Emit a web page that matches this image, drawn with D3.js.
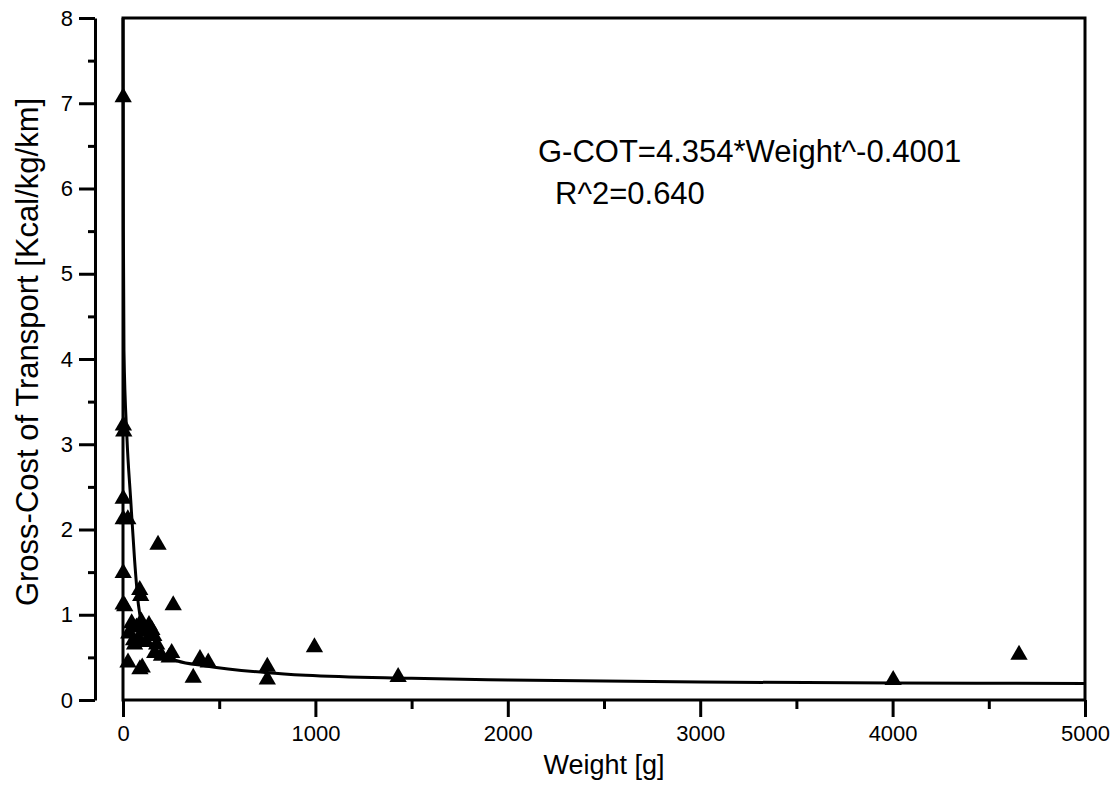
<!DOCTYPE html>
<html>
<head>
<meta charset="utf-8">
<script src="https://cdn.jsdelivr.net/npm/d3@7"></script>
<style>
  body { margin: 0; background: #fff; }
  svg { font-family: "Liberation Sans", Arial, sans-serif; }
  .axis path, .axis line { stroke: #000; stroke-width: 3px; }
  .axis text { font-size: 22px; fill: #000; }
</style>
</head>
<body>
<div id="chart"></div>
<script>
"use strict";

// observed points (weight in g, gross cost of transport)
var weights = [1, 2, 4, 1, 1, 25, 1, 1, 9, 182, 87, 92, 261,
  30, 45, 55, 60, 70, 80, 95, 105, 120, 135, 150, 160, 175,
  26, 88, 100, 165, 200, 253, 240, 365, 400, 443,
  750, 750, 995, 1430, 4003, 4657];
var costs = [7.07, 3.22, 3.15, 2.36, 2.12, 2.12, 1.49, 1.12, 1.1, 1.82, 1.29, 1.22, 1.11,
  0.78, 0.9, 0.7, 0.65, 0.85, 0.72, 0.92, 0.8, 0.68, 0.88, 0.82, 0.75, 0.65,
  0.44, 0.36, 0.38, 0.55, 0.52, 0.55, 0.5, 0.26, 0.48, 0.44,
  0.39, 0.24, 0.62, 0.27, 0.235, 0.53];

// fitted curve as drawn in the figure
var fitWeights = [0.5, 2, 5, 20, 40, 60, 80, 100, 130, 180, 280, 430, 750, 950, 1500, 2000, 3000, 4000, 5000];
var fitCosts = [8.0, 5.5, 4.1, 3.1, 2.35, 1.65, 1.12, 0.86, 0.68, 0.56, 0.46, 0.4, 0.32, 0.29, 0.255, 0.235, 0.21, 0.2, 0.195];

var xTicks = [0, 1000, 2000, 3000, 4000, 5000];
var xMinor = [500, 1500, 2500, 3500, 4500];
var yTicks = [0, 1, 2, 3, 4, 5, 6, 7, 8];
var yMinor = [0.5, 1.5, 2.5, 3.5, 4.5, 5.5, 6.5, 7.5];

var equation = "G-COT=4.354*Weight^-0.4001";
var rSquared = "R^2=0.640";

var width = 1114,
  height = 785;

var x = d3.scaleLinear().domain([0, 5000]).range([123, 1085]);
var y = d3.scaleLinear().domain([0, 8]).range([700, 18]);

var svg = d3
  .select("#chart")
  .append("svg")
  .attr("width", width)
  .attr("height", height);

svg.append("rect").attr("width", width).attr("height", height).attr("fill", "#fff");

// plot frame
svg
  .append("rect")
  .attr("x", x(0))
  .attr("y", y(8))
  .attr("width", x(5000) - x(0))
  .attr("height", y(0) - y(8))
  .attr("fill", "none")
  .attr("stroke", "#000")
  .attr("stroke-width", 3);

// x axis along the bottom of the frame
var gx = svg
  .append("g")
  .attr("class", "axis")
  .attr("transform", "translate(0," + y(0) + ")")
  .call(d3.axisBottom(x).tickValues(xTicks).tickSize(17).tickPadding(8).tickFormat(d3.format("d")));
gx.select(".domain").remove();
svg
  .append("g")
  .attr("class", "axis")
  .attr("transform", "translate(0," + y(0) + ")")
  .call(d3.axisBottom(x).tickValues(xMinor).tickSize(9).tickFormat(""))
  .select(".domain")
  .remove();

// detached y axis
var axisX = 95;
svg
  .append("g")
  .attr("class", "axis")
  .attr("transform", "translate(" + axisX + ",0)")
  .call(d3.axisLeft(y).tickValues(yTicks).tickSize(16).tickSizeOuter(0).tickPadding(6));
svg
  .append("g")
  .attr("class", "axis")
  .attr("transform", "translate(" + axisX + ",0)")
  .call(d3.axisLeft(y).tickValues(yMinor).tickSize(7).tickFormat(""))
  .select(".domain")
  .remove();

// axis titles
svg
  .append("text")
  .attr("x", (x(0) + x(5000)) / 2)
  .attr("y", 774)
  .attr("text-anchor", "middle")
  .style("font-size", "27px")
  .text("Weight [g]");

svg
  .append("text")
  .attr("transform", "translate(38,352) rotate(-90)")
  .attr("text-anchor", "middle")
  .style("font-size", "31px")
  .text("Gross-Cost of Transport [Kcal/kg/km]");

// fit curve
var line = d3
  .line()
  .x(function(d, i) { return x(fitWeights[i]); })
  .y(function(d) { return y(d); })
  .curve(d3.curveMonotoneX);

svg
  .append("path")
  .datum(fitCosts)
  .attr("d", line)
  .attr("fill", "none")
  .attr("stroke", "#000")
  .attr("stroke-width", 3);

// points
var tri = d3.symbol().type(d3.symbolTriangle).size(130);
svg
  .selectAll("path.pin")
  .data(costs)
  .enter()
  .append("path")
  .attr("class", "pin")
  .attr("d", tri)
  .attr("transform", function(d, i) {
    return "translate(" + x(weights[i]) + "," + y(d) + ")";
  })
  .attr("fill", "#000");

// equation
svg
  .append("text")
  .attr("x", 538)
  .attr("y", 162)
  .style("font-size", "31px")
  .text(equation);
svg
  .append("text")
  .attr("x", 555)
  .attr("y", 204)
  .style("font-size", "31px")
  .text(rSquared);
</script>
</body>
</html>
